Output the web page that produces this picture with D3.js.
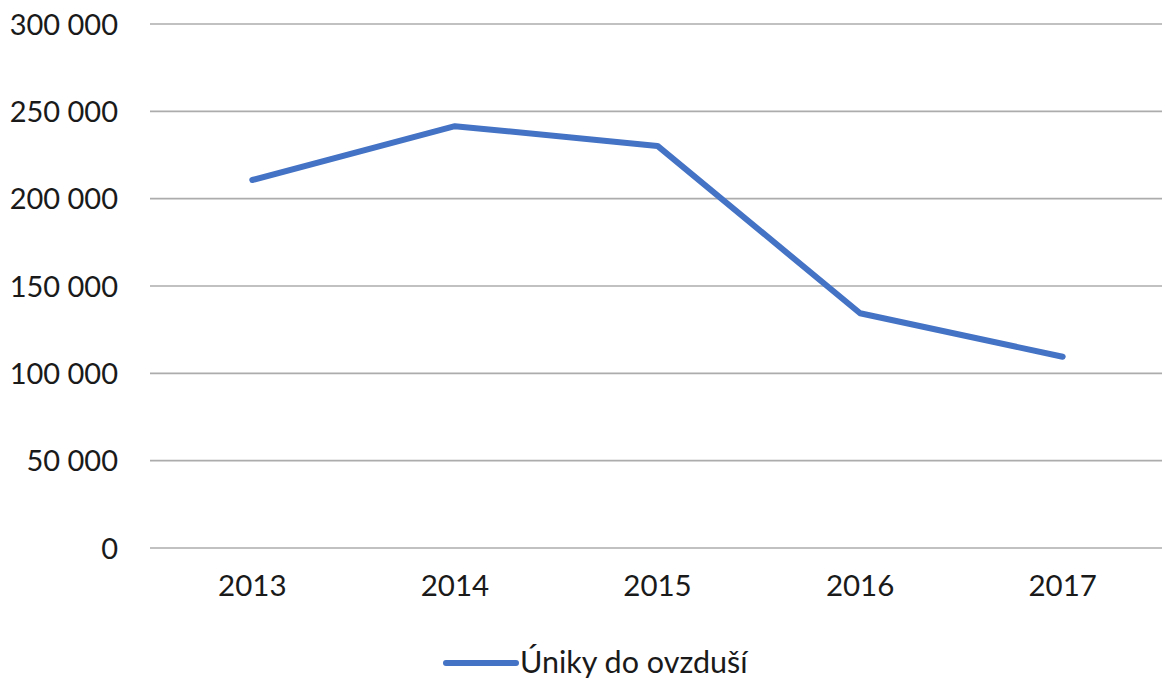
<!DOCTYPE html>
<html>
<head>
<meta charset="utf-8">
<script src="https://cdn.jsdelivr.net/npm/d3@7"></script>
<style>
html,body{margin:0;padding:0;background:#fff;}
svg{display:block;}
text{font-family:Lato,"Open Sans",sans-serif;fill:#1a1a1a;}
</style>
</head>
<body>
<svg id="chart" width="1162" height="681"></svg>
<script>
const categories = ["2013", "2014", "2015", "2016", "2017"];
const values = [210700, 241500, 230200, 134400, 109500];
const yTicks = [0, 50000, 100000, 150000, 200000, 250000, 300000];
const seriesName = "Úniky do ovzduší";

const W = 1162, H = 681;
const svg = d3.select("#chart");
const x = d3.scaleBand().domain(categories).range([151, 1164]).padding(0);
const y = d3.scaleLinear().domain([0, 300000]).range([548, 24]);
const fmt = v => d3.format(",")(v).replace(/,/g, " ");

// gridlines
svg.append("g").selectAll("line").data(yTicks).join("line")
  .attr("x1", 150).attr("x2", W)
  .attr("y1", d => y(d)).attr("y2", d => y(d))
  .attr("stroke", "#acacac").attr("stroke-width", 1.6);

// y labels
const yAxis = d3.axisLeft(y).tickValues(yTicks).tickFormat(fmt).tickSize(0).tickPadding(0);
const gy = svg.append("g").attr("transform", "translate(118,0)").call(yAxis);
gy.select(".domain").remove();
gy.selectAll("text").style("font-size", "29px").attr("fill", "#1a1a1a").attr("dy", "0.35em")
  .style("font-family", "Lato, 'Open Sans', sans-serif");

// x labels
const xAxis = d3.axisBottom(x).tickSize(0).tickPadding(0);
const gx = svg.append("g").attr("transform", "translate(0,568)").call(xAxis);
gx.select(".domain").remove();
gx.selectAll("text").style("font-size", "29.5px").attr("fill", "#1a1a1a").attr("dy", "0.95em")
  .style("font-family", "Lato, 'Open Sans', sans-serif");

// line
const line = d3.line().x((d, i) => x(categories[i]) + x.bandwidth() / 2).y(d => y(d));
svg.append("path").datum(values)
  .attr("d", line).attr("fill", "none")
  .attr("stroke", "#4472c4").attr("stroke-width", 6)
  .attr("stroke-linecap", "round").attr("stroke-linejoin", "round");

// legend
const lg = svg.append("g");
lg.append("line").attr("x1", 446).attr("x2", 516).attr("y1", 663).attr("y2", 663)
  .attr("stroke", "#4472c4").attr("stroke-width", 6).attr("stroke-linecap", "round");
lg.append("text").attr("x", 520).attr("y", 673).style("font-size", "30.5px").text(seriesName);
</script>
</body>
</html>
